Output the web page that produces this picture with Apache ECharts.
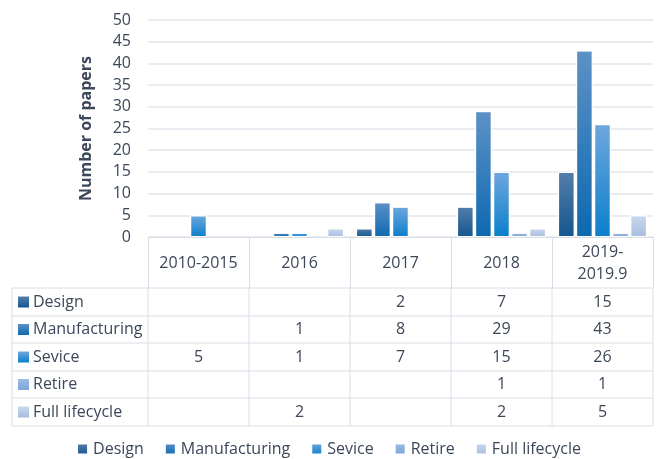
<!DOCTYPE html>
<html lang="en" style="height: 100%">

<head>
  <meta charset="utf-8">
  <title>Number of papers by lifecycle stage</title>
  <script src="https://cdn.jsdelivr.net/npm/echarts@6/dist/echarts.min.js"></script>
</head>

<body style="height: 100%; margin: 0; background: #fff">
  <div id="chart" style="height: 459px; width: 657px"></div>
  <script type="text/javascript">
    const periods = ['2010-2015', '2016', '2017', '2018', '2019-\n2019.9'];
    const seriesNames = ['Design', 'Manufacturing', 'Sevice', 'Retire', 'Full lifecycle'];
    const design = [null, null, 2, 7, 15];
    const manufacturing = [null, 1, 8, 29, 43];
    const sevice = [5, 1, 7, 15, 26];
    const retire = [null, null, null, 1, 1];
    const fullLifecycle = [null, 2, null, 2, 5];
    const yTicks = { min: 0, max: 50, interval: 5 };

    const allValues = [design, manufacturing, sevice, retire, fullLifecycle];
    // top / bottom gradient colours per series
    const colors = [
      ['#547ea9', '#155690'],
      ['#5d91c7', '#0d69af'],
      ['#6ea7de', '#0b7fcb'],
      ['#9bbce3', '#7fa4d6'],
      ['#c9d8ee', '#a7bddd']
    ];
    const textColor = '#3c475a';
    const lineColor = '#d9dee6';
    const font = '"Open Sans", sans-serif';
    const fs = 16;

    // plot area (pixels)
    const gridLeft = 148, gridRight = 4, gridTop = 20, gridBottom = 222;

    function grad(c) {
      return new echarts.graphic.LinearGradient(0, 0, 0, 1, [
        { offset: 0, color: c[0] },
        { offset: 1, color: c[1] }
      ]);
    }

    const chart = echarts.init(document.getElementById('chart'));
    const option = {
      animation: false,
      textStyle: { fontFamily: font },
      grid: { left: gridLeft, right: gridRight, top: gridTop, bottom: gridBottom },
      legend: {
        left: 'center',
        top: 436,
        icon: 'rect',
        itemWidth: 11,
        itemHeight: 11,
        itemGap: 20,
        textStyle: { fontSize: fs, color: textColor },
        data: seriesNames
      },
      xAxis: {
        type: 'category',
        data: periods,
        axisLine: { lineStyle: { color: lineColor, width: 1 } },
        axisTick: { show: true, interval: 0, length: 51, lineStyle: { color: lineColor } },
        axisLabel: {
          interval: 0,
          hideOverlap: false,
          fontSize: fs,
          color: textColor,
          margin: 26,
          verticalAlign: 'middle',
          lineHeight: 22,
          align: 'center'
        }
      },
      yAxis: {
        type: 'value',
        min: yTicks.min,
        max: yTicks.max,
        interval: yTicks.interval,
        name: 'Number of papers',
        nameLocation: 'middle',
        nameGap: 54,
        nameTextStyle: { fontSize: fs, fontWeight: 'bold', color: textColor },
        axisLabel: { fontSize: fs, color: textColor, margin: 17 },
        splitLine: { lineStyle: { color: '#e3e6ec', width: 1.5 } },
        axisLine: { show: false },
        axisTick: { show: false }
      },
      series: seriesNames.map((name, i) => ({
        name: name,
        type: 'bar',
        data: allValues[i],
        barGap: '8%',
        barCategoryGap: '12%',
        itemStyle: { color: grad(colors[i]), borderColor: '#fff', borderWidth: 1 }
      }))
    };
    chart.setOption(option);

    // data table under the axis
    const rowTops = [288, 316, 343, 371, 398, 426];
    const tableLeft = 12;
    const cellW = (chart.getWidth() - gridLeft - gridRight) / periods.length;
    const colEdges = [];
    for (let i = 0; i <= periods.length; i++) colEdges.push(gridLeft + i * cellW);
    const lastEdge = colEdges[colEdges.length - 1];
    const g = [];
    rowTops.forEach(y => {
      g.push({ type: 'line', shape: { x1: tableLeft, y1: y, x2: lastEdge, y2: y }, style: { stroke: lineColor, lineWidth: 1 } });
    });
    [tableLeft].concat(colEdges).forEach(x => {
      g.push({ type: 'line', shape: { x1: x, y1: rowTops[0], x2: x, y2: rowTops[rowTops.length - 1] }, style: { stroke: lineColor, lineWidth: 1 } });
    });
    seriesNames.forEach((name, r) => {
      const yc = (rowTops[r] + rowTops[r + 1]) / 2;
      g.push({ type: 'rect', shape: { x: 18, y: yc - 5.5, width: 11, height: 11 }, style: { fill: grad(colors[r]) } });
      g.push({ type: 'text', x: 33, y: yc, style: { text: name, fontSize: fs, fontFamily: font, fill: textColor, verticalAlign: 'middle' } });
      allValues[r].forEach((v, c) => {
        if (v == null) return;
        g.push({
          type: 'text',
          x: chart.convertToPixel({ xAxisIndex: 0 }, c),
          y: yc,
          style: { text: String(v), fontSize: fs, fontFamily: font, fill: textColor, align: 'center', verticalAlign: 'middle' }
        });
      });
    });
    chart.setOption({ graphic: g });
  </script>
</body>

</html>
